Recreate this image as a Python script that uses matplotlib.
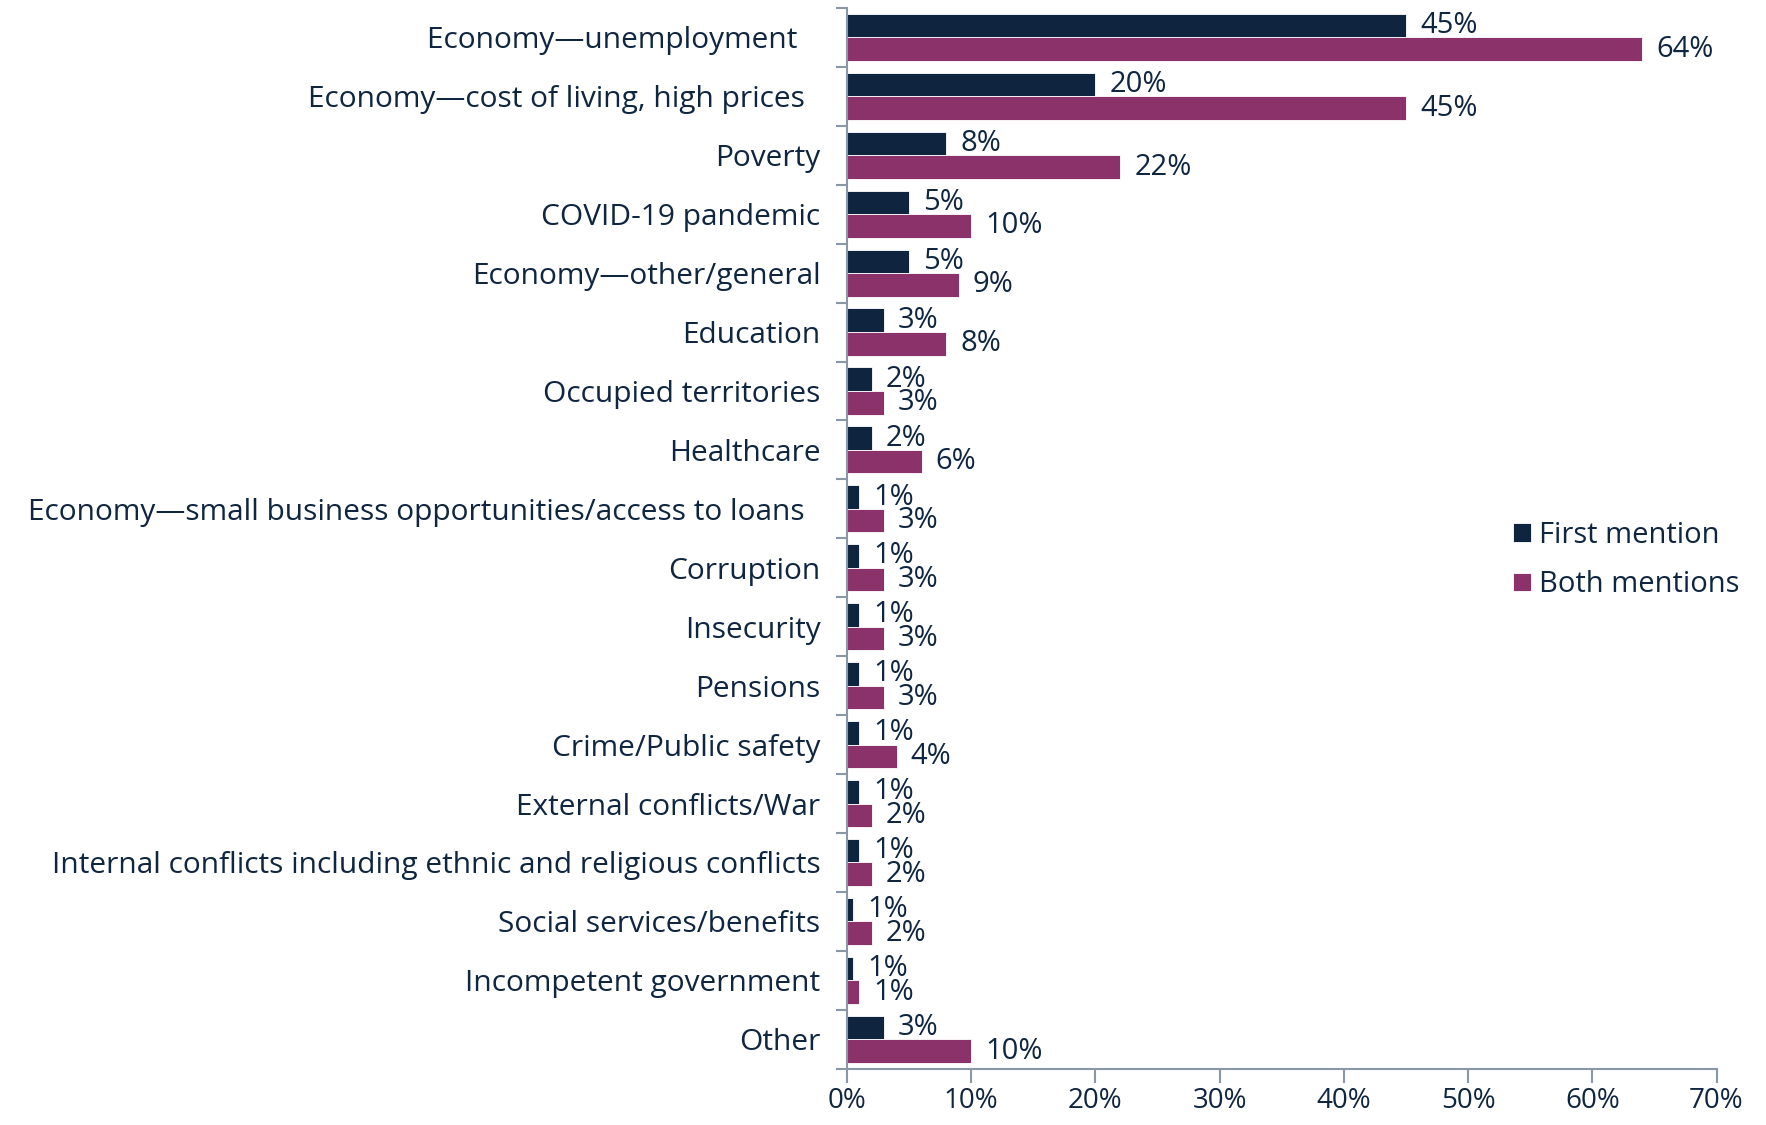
import numpy as np
import matplotlib
matplotlib.use("Agg")
import matplotlib.pyplot as plt

plt.rcParams['font.family'] = ['Open Sans', 'DejaVu Sans']

categories = ["Economy\u2014unemployment   ",
              "Economy\u2014cost of living, high prices  ",
              "Poverty",
              "COVID-19 pandemic",
              "Economy\u2014other/general",
              "Education",
              "Occupied territories",
              "Healthcare",
              "Economy\u2014small business opportunities/access to loans  ",
              "Corruption",
              "Insecurity",
              "Pensions",
              "Crime/Public safety",
              "External conflicts/War",
              "Internal conflicts including ethnic and religious conflicts",
              "Social services/benefits",
              "Incompetent government",
              "Other"]
first = [45, 20, 8, 5, 5, 3, 2, 2, 1, 1, 1, 1, 1, 1, 1, 0.5, 0.5, 3]
both = [64, 45, 22, 10, 9, 8, 3, 6, 3, 3, 3, 3, 4, 2, 2, 2, 1, 10]
first_labels = ["45%", "20%", "8%", "5%", "5%", "3%", "2%", "2%", "1%", "1%",
                "1%", "1%", "1%", "1%", "1%", "1%", "1%", "3%"]
both_labels = ["64%", "45%", "22%", "10%", "9%", "8%", "3%", "6%", "3%", "3%",
               "3%", "3%", "4%", "2%", "2%", "2%", "1%", "10%"]

navy = "#0f243e"
purple = "#8c326a"
txt = "#0f2540"
grey = "#8a97a6"

fig = plt.figure(figsize=(17.66, 11.25), dpi=100)
ax = fig.add_axes([0.4796, 0.050, 0.4924, 0.943])

n = len(categories)
y = np.arange(n)
h = 0.4
ax.barh(y - h/2, first, height=h, color=navy, edgecolor="white", linewidth=0.6, label="First mention")
ax.barh(y + h/2, both, height=h, color=purple, edgecolor="white", linewidth=0.6, label="Both mentions")

for i in range(n):
    ax.annotate(first_labels[i], (first[i], y[i] - h/2), xytext=(10, 0), textcoords="offset points",
                va="center", ha="left", fontsize=21, color=txt)
    ax.annotate(both_labels[i], (both[i], y[i] + h/2), xytext=(10, 0), textcoords="offset points",
                va="center", ha="left", fontsize=21, color=txt)

ax.set_ylim(n - 0.5, -0.5)
ax.set_xlim(0, 70)
ax.set_xticks(np.arange(0, 71, 10))
ax.set_xticklabels([f"{v}%" for v in range(0, 71, 10)], fontsize=20, color=txt)

ax.set_yticks(y)
ax.set_yticklabels(categories, fontsize=21.5, color=txt)
ax.tick_params(axis="y", which="major", length=0, pad=19)
ax.set_yticks(np.arange(-0.5, n, 1), minor=True)
ax.tick_params(axis="y", which="minor", length=8, color=grey, width=1.5)
ax.tick_params(axis="x", length=10, color=grey, width=1.5, pad=3)

for s in ["top", "right"]:
    ax.spines[s].set_visible(False)
for s in ["left", "bottom"]:
    ax.spines[s].set_color(grey)
    ax.spines[s].set_linewidth(1.5)

fig.legend(loc="center left", bbox_to_anchor=(0.842, 0.502), frameon=False, fontsize=21,
           handlelength=0.6, handleheight=0.6, handletextpad=0.3, labelspacing=0.7, labelcolor=txt)

fig.savefig("out.png", dpi=100)
